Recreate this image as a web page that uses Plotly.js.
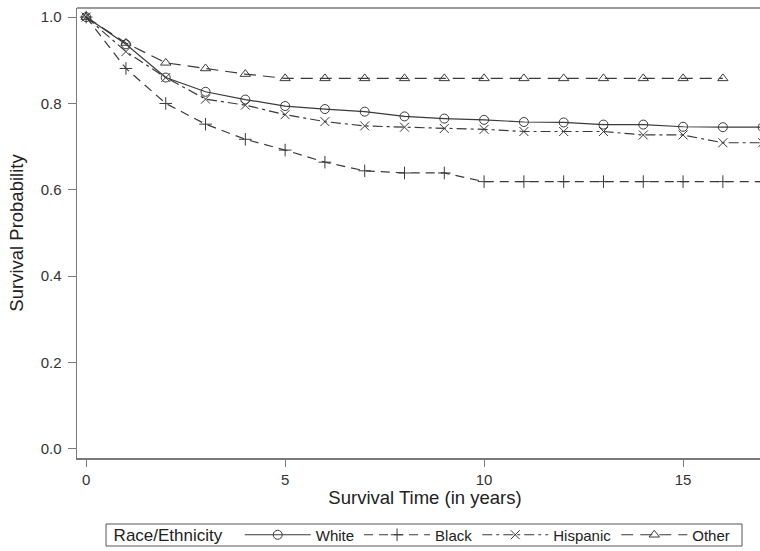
<!DOCTYPE html>
<html><head><meta charset="utf-8">
<script src="https://cdn.plot.ly/plotly-3.0.1.min.js"></script>
<style>html,body{margin:0;padding:0;overflow:hidden;background:#fff}</style>
</head><body><div id="chart"></div>
<script>
const years = [0,1,2,3,4,5,6,7,8,9,10,11,12,13,14,15,16,17];
const yearsOther = [0,1,2,3,4,5,6,7,8,9,10,11,12,13,14,15,16];
const white    = [1.0,0.937,0.860,0.827,0.809,0.794,0.787,0.781,0.770,0.765,0.762,0.757,0.756,0.751,0.751,0.746,0.745,0.745];
const black    = [1.0,0.881,0.800,0.752,0.717,0.692,0.664,0.644,0.639,0.639,0.619,0.619,0.619,0.619,0.619,0.619,0.619,0.619];
const hispanic = [1.0,0.920,0.860,0.810,0.796,0.774,0.758,0.748,0.745,0.742,0.740,0.735,0.735,0.735,0.727,0.727,0.709,0.709];
const other    = [1.0,0.940,0.894,0.881,0.868,0.858,0.858,0.858,0.858,0.858,0.858,0.858,0.858,0.858,0.858,0.858,0.858];
const yTicks = [0,0.2,0.4,0.6,0.8,1.0];
const yTickText = ['0.0','0.2','0.4','0.6','0.8','1.0'];
const xTicks = [0,5,10,15];

const ink = '#3a3a3a';
function tr(name, x, y, dash, symbol, size) {
  return {x: x, y: y, name: name, type: 'scatter', mode: 'lines+markers',
    line: {color: ink, width: 1.2, dash: dash},
    marker: {symbol: symbol, size: size, color: ink, line: {color: ink, width: 1}},
    cliponaxis: true};
}
const data = [
  tr('White', years, white, 'solid', 'circle-open', 9),
  tr('Black', years, black, '9px,6px', 'cross-thin-open', 9),
  tr('Hispanic', years, hispanic, '10px,4px,3px,4px', 'x-thin-open', 9),
  tr('Other', yearsOther, other, '12px,7px', 'triangle-up-open', 9)
];
const axisCol = '#7a7a7a';
const layout = {
  width: 790, height: 551,
  margin: {l: 77, r: 17, t: 8, b: 93},
  paper_bgcolor: '#fff', plot_bgcolor: '#fff',
  font: {family: 'Arial, "Liberation Sans", sans-serif', color: '#222', size: 15},
  showlegend: true,
  xaxis: {range: [-0.23, 17.26], tickvals: xTicks, ticks: 'outside', ticklen: 7, tickcolor: axisCol,
    showline: true, linecolor: axisCol, linewidth: 1.5, mirror: false, showgrid: false, zeroline: false,
    automargin: false, tickfont: {size: 15, color: '#333'},
    title: {text: 'Survival Time (in years)', font: {size: 18.5, color: '#222'}, standoff: 4}},
  yaxis: {range: [-0.021, 1.021], tickvals: yTicks, ticktext: yTickText, ticks: 'outside', ticklen: 8, tickcolor: axisCol,
    showline: true, linecolor: axisCol, linewidth: 1.5, showgrid: false, zeroline: false,
    automargin: false, tickfont: {size: 15, color: '#333'}, ticklabelstandoff: 3,
    title: {text: 'Survival Probability', font: {size: 18.5, color: '#222'}, standoff: 12}},
  shapes: [
    {type: 'line', xref: 'paper', yref: 'paper', x0: 0, x1: 1, y0: 1, y1: 1,
      line: {color: axisCol, width: 1.5}},
    {type: 'rect', xref: 'paper', yref: 'paper', x0: 0.0417, x1: 0.9555, y0: -0.1956, y1: -0.1467,
      line: {color: '#555', width: 1}, layer: 'above'}
  ],
  legend: {orientation: 'h', x: 0.498, xanchor: 'center', yref: 'container', y: 0.029, yanchor: 'middle',
    borderwidth: 0, bgcolor: 'rgba(0,0,0,0)',
    font: {size: 15, color: '#222'},
    title: {text: 'Race/Ethnicity  ', side: 'left', font: {size: 17, color: '#222'}},
    itemwidth: 66, tracegroupgap: 0}
};
Plotly.newPlot('chart', data, layout, {displayModeBar: false, staticPlot: true});
</script></body></html>
